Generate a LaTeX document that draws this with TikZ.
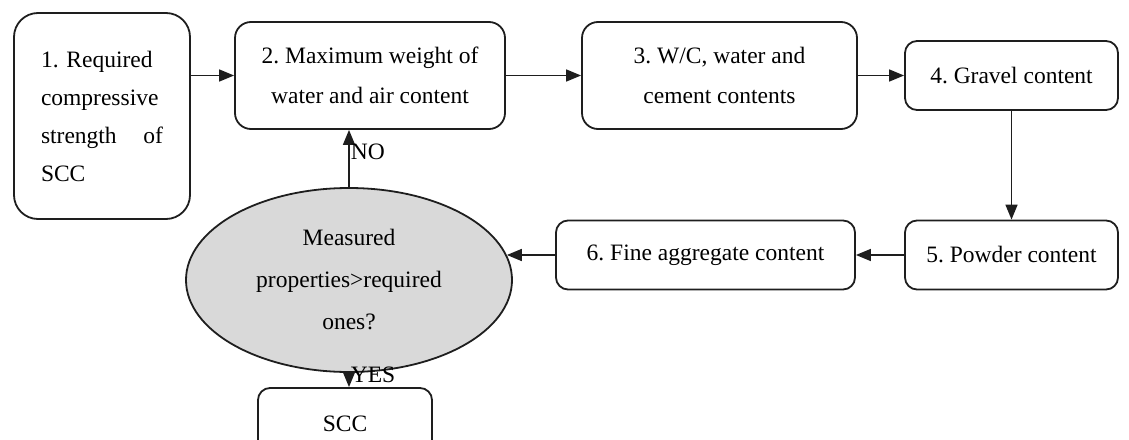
\documentclass[tikz,border=0pt]{standalone}
\usepackage{fontspec}
\setmainfont{Liberation Serif}
\usetikzlibrary{shapes.geometric}
\usetikzlibrary{arrows.meta}
\definecolor{ovalgray}{HTML}{D9D9D9}
\definecolor{edgegray}{HTML}{1E1E1E}
\frenchspacing
\tikzset{
	stepbox/.style={rectangle, draw=edgegray, line width=1.8pt, rounded corners=12pt, align=center, font=\fontsize{23.5}{40}\selectfont},
	flow/.style={line width=1.6pt, draw=edgegray, -{Triangle[length=15pt,width=12pt]}},
	answer/.style={font=\fontsize{23.5}{28}\selectfont, inner sep=1pt}
}
\begin{document}
\begin{tikzpicture}[x=1pt,y=-1pt]
		\path[use as bounding box, clip] (0,0) rectangle (1129,439);
		\path (102,116) node(s1)[stepbox, minimum width=176pt, minimum height=206pt, rounded corners=24pt, text width=122pt, align=left, font=\fontsize{23.5}{38}\selectfont]{1. Required\\compressive\\strength\hfill of\\SCC}
		(370,75.5) node(s2)[stepbox, minimum width=270pt, minimum height=107pt, rounded corners=16pt]{2. Maximum weight of\\water and air content}
		(719.5,75.5) node(s3)[stepbox, minimum width=275pt, minimum height=107pt, rounded corners=16pt]{3. W/C, water and\\cement contents}
		(1011.5,75.5) node(s4)[stepbox, minimum width=213pt, minimum height=69pt]{4. Gravel content}
		(1011.5,255) node(s5)[stepbox, minimum width=213pt, minimum height=69pt]{5. Powder content}
		(705.5,255) node(s6)[stepbox, minimum width=299pt, minimum height=69pt]{6. Fine aggregate content}
		(349,280) node(check)[ellipse, draw=edgegray, line width=1.8pt, fill=ovalgray, minimum width=326pt, minimum height=184pt, inner sep=0pt, align=center, font=\fontsize{23.5}{42}\selectfont]{Measured\\properties>required\\ones?}
		(345,424) node(scc)[stepbox, minimum width=174pt, minimum height=72pt]{SCC};
		\draw[flow] (s1.east |- s2.west) to (s2.west);
		\draw[flow] (s2.east) to (s3.west);
		\draw[flow] (s3.east) to (s4.west);
		\draw[flow] (s4.south) to (s5.north);
		\draw[flow] (s5.west) to (s6.east);
		\draw[flow] (s6.west) to (check.9);
		\draw[flow] (check.north) to node[answer, pos=0.62, right]{NO} (check.north |- s2.south);
		\draw[flow] (check.south) to node[answer, pos=0.15, right]{YES} (check.south |- scc.north);
	
 \end{tikzpicture}
\end{document}
